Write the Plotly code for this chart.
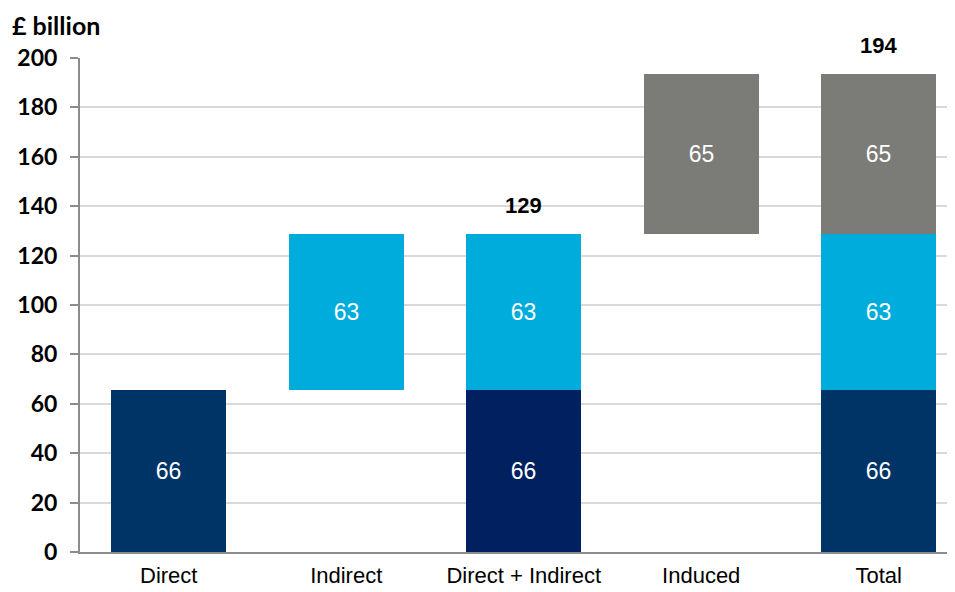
"""
Waterfall of economic contribution: direct, indirect and induced (GBP billion).
"""
import plotly.graph_objects as go

categories = ["Direct", "Indirect", "Direct + Indirect", "Induced", "Total"]

# segment values (£ billion)
direct = [65.4, None, 65.4, None, 65.4]
indirect = [None, 63.3, 63.3, None, 63.3]
induced = [None, None, None, 64.8, 64.8]

direct_labels = ["66", "", "66", "", "66"]
indirect_labels = ["", "63", "63", "", "63"]
induced_labels = ["", "", "", "65", "65"]

total_cats = ["Direct + Indirect", "Total"]
total_values = [128.7, 193.5]
total_labels = ["129", "194"]

y_ticks = [0, 20, 40, 60, 80, 100, 120, 140, 160, 180, 200]

NAVY = "#003366"
NAVY_DARK = "#002060"
LIGHT_BLUE = "#00ACDC"
GREY = "#7B7C77"

# bases for floating segments
indirect_base = [65.4 if v is not None else None for v in indirect]
induced_base = [128.7 if v is not None else None for v in induced]

label_font = dict(family="Liberation Sans, Arial", size=23, color="white")

fig = go.Figure()

fig.add_trace(go.Bar(
    x=categories, y=direct, base=0,
    marker=dict(color=[NAVY, NAVY, NAVY_DARK, NAVY, NAVY], line_width=0),
    text=direct_labels, textposition="inside", insidetextanchor="middle",
    textfont=label_font, width=0.65, hoverinfo="skip"
))
fig.add_trace(go.Bar(
    x=categories, y=indirect, base=indirect_base,
    marker=dict(color=LIGHT_BLUE, line_width=0),
    text=indirect_labels, textposition="inside", insidetextanchor="middle",
    textfont=label_font, width=0.65, hoverinfo="skip"
))
fig.add_trace(go.Bar(
    x=categories, y=induced, base=induced_base,
    marker=dict(color=GREY, line_width=0),
    text=induced_labels, textposition="inside", insidetextanchor="middle",
    textfont=label_font, width=0.65, hoverinfo="skip"
))

# totals above the stacked bars
for cat, val, lab in zip(total_cats, total_values, total_labels):
    fig.add_annotation(
        x=cat, y=val, text=lab, showarrow=False, yanchor="middle", yshift=29,
        font=dict(family="Liberation Sans, Arial", size=22, color="black", weight="bold")
    )

fig.add_annotation(
    xref="paper", yref="paper", x=-0.08, y=1.067, xanchor="left", yanchor="middle",
    text="£ billion", showarrow=False,
    font=dict(family="Lato", size=25, color="black", weight="bold")
)

fig.update_layout(
    width=947, height=584,
    barmode="overlay",
    showlegend=False,
    plot_bgcolor="white", paper_bgcolor="white",
    margin=dict(l=72, r=0, t=50, b=40),
    bargap=0,
    xaxis=dict(
        type="category", range=[-0.5, 4.43], automargin=False,
        showline=True, linecolor="#8C8C8C", linewidth=2,
        ticks="", showgrid=False, ticklabelstandoff=3,
        tickfont=dict(family="Liberation Sans, Arial", size=22, color="black"),
    ),
    yaxis=dict(
        range=[0, 200], tickvals=y_ticks, automargin=False,
        showline=True, linecolor="#8C8C8C", linewidth=2,
        ticks="outside", ticklen=8, tickcolor="#8C8C8C", tickwidth=2,
        showgrid=True, gridcolor="#D9D9D9", gridwidth=2,
        zeroline=False, ticklabelstandoff=8,
        tickfont=dict(family="Lato", size=23, color="black", weight="bold"),
    ),
)

fig.write_html("out.html")
